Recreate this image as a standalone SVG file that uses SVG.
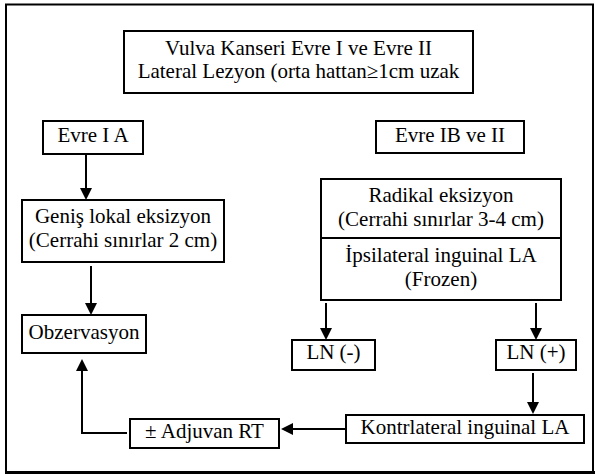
<svg xmlns="http://www.w3.org/2000/svg" width="595" height="476" viewBox="0 0 595 476">
<defs>
<style>
.box{fill:#fff;stroke:#000;stroke-width:2}
.t{font-family:'Liberation Serif','Times New Roman','DejaVu Serif',serif;font-size:21px;fill:#000;text-anchor:middle}
.c{fill:none;stroke:#000;stroke-width:2}
</style>
<marker id="ah" markerUnits="userSpaceOnUse" markerWidth="12" markerHeight="12" refX="10" refY="6" orient="auto">
<path d="M0,0 L12,6 L0,12 z" fill="#000"/>
</marker>
</defs>
<rect x="0" y="0" width="595" height="476" fill="#fff"/>
<rect x="6" y="4.5" width="587" height="468" fill="none" stroke="#000" stroke-width="2"/>
<line x1="5" y1="472.5" x2="595" y2="472.5" stroke="#000" stroke-width="3"/>

<g id="title">
<rect class="box" x="124" y="31" width="349" height="62"/>
<text class="t" x="298.5" y="55">Vulva Kanseri Evre I ve Evre II</text>
<text class="t" x="298.5" y="78">Lateral Lezyon (orta hattan≥1cm uzak</text>
</g>
<g id="evre1a">
<rect class="box" x="43" y="121" width="100" height="33"/>
<text class="t" x="93" y="142">Evre I A</text>
</g>
<g id="evre1b">
<rect class="box" x="376" y="121" width="148" height="32"/>
<text class="t" x="450" y="142">Evre IB ve II</text>
</g>
<g id="genis">
<rect class="box" x="22" y="200" width="202" height="62"/>
<text class="t" x="123" y="223">Geniş lokal eksizyon</text>
<text class="t" x="123" y="247">(Cerrahi sınırlar 2 cm)</text>
</g>
<g id="obz">
<rect class="box" x="22" y="315" width="124" height="38"/>
<text class="t" x="84" y="339">Obzervasyon</text>
</g>
<g id="radikal">
<rect class="box" x="321" y="179" width="240" height="121"/>
<line x1="321" y1="238" x2="561" y2="238" stroke="#000" stroke-width="2"/>
<text class="t" x="441" y="202">Radikal eksizyon</text>
<text class="t" x="441" y="226">(Cerrahi sınırlar 3-4 cm)</text>
<text class="t" x="441" y="262">İpsilateral inguinal LA</text>
<text class="t" x="441" y="286">(Frozen)</text>
</g>
<g id="lnneg">
<rect class="box" x="292" y="340" width="83" height="30"/>
<text class="t" x="333.5" y="359">LN (-)</text>
</g>
<g id="lnpos">
<rect class="box" x="496" y="340" width="80" height="30"/>
<text class="t" x="536" y="359">LN (+)</text>
</g>
<g id="kontr">
<rect class="box" x="346" y="415" width="238" height="28"/>
<text class="t" x="465" y="434">Kontrlateral inguinal LA</text>
</g>
<g id="adj">
<rect class="box" x="130" y="419" width="149" height="29"/>
<text class="t" x="204.5" y="438">± Adjuvan RT</text>
</g>

<g id="connectors">
<line class="c" x1="86" y1="155" x2="86" y2="198" marker-end="url(#ah)"/>
<line class="c" x1="91" y1="266" x2="91" y2="313" marker-end="url(#ah)"/>
<line class="c" x1="326" y1="303" x2="326" y2="338" marker-end="url(#ah)"/>
<line class="c" x1="536" y1="303" x2="536" y2="338" marker-end="url(#ah)"/>
<line class="c" x1="533" y1="373" x2="533" y2="412" marker-end="url(#ah)"/>
<line class="c" x1="345" y1="429" x2="283" y2="429" marker-end="url(#ah)"/>
<polyline class="c" points="127,433 82,433 82,361" marker-end="url(#ah)"/>
</g>
</svg>
